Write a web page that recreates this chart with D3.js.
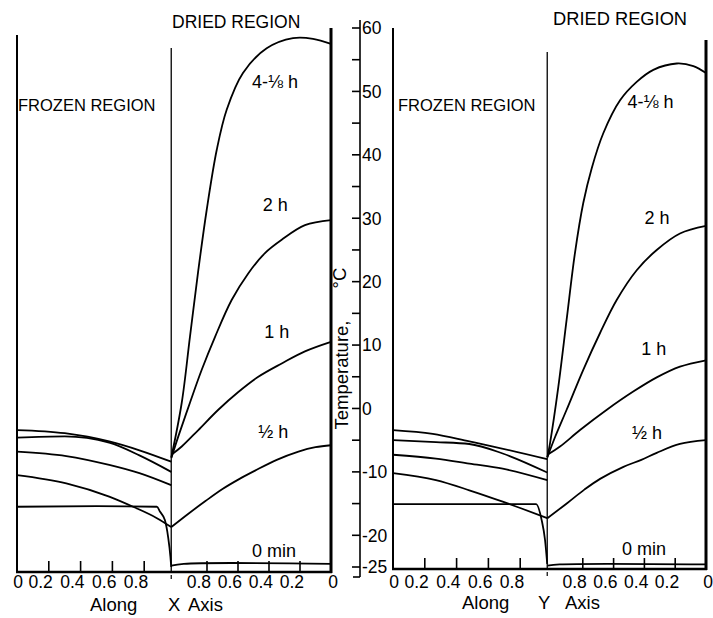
<!DOCTYPE html>
<html><head><meta charset="utf-8">
<script src="https://cdn.jsdelivr.net/npm/d3@7"></script>
<style>
body{margin:0;background:#fff}
text{font-family:"Liberation Sans",Arial,sans-serif;fill:#000}
</style>
</head><body>
<svg id="c" width="713" height="618"></svg>
<script>
// ---------------- data ----------------
const xTickValues = [0.2, 0.4, 0.6, 0.8];
const tempMajorTicks = [60, 50, 40, 30, 20, 10, 0, -10, -20, -25];
const tempMinorTicks = [55, 45, 35, 25, 15, 5, -5, -15];
const frontFrozen = 0.97;   // sublimation front, frozen-side coordinate
const frontDried = 1.03;    // sublimation front, dried-side coordinate
const seriesNames = ["4-\u215B h", "2 h", "1 h", "\u00BD h", "0 min"];

// Along X axis — frozen region [x, T]
const xFrozen4h = [[0,-3.4],[0.3,-3.9],[0.58,-5.2],[0.77,-6.6],[0.97,-8.4]];
const xFrozen2h = [[0,-4.6],[0.3,-4.4],[0.58,-5.4],[0.77,-7.4],[0.97,-10.0]];
const xFrozen1h = [[0,-6.8],[0.31,-7.5],[0.58,-8.9],[0.77,-10.2],[0.97,-12.1]];
const xFrozenHalf = [[0,-10.5],[0.31,-11.8],[0.58,-13.9],[0.73,-15.5],[0.88,-17.3],[0.97,-18.7]];
const xFrozen0 = [[0,-15.5],[0.5,-15.4],[0.88,-15.5],[0.9,-16.3],[0.93,-17.6],[0.95,-20.2],[0.965,-23.4],[0.97,-25]];
// Along X axis — dried region [distance, T]
const xDried4h = [[1.03,-7.7],[0.963,0.9],[0.91,11.3],[0.856,21.8],[0.802,31.3],[0.737,40.8],[0.673,47.1],[0.568,52.9],[0.415,56.8],[0.245,58.4],[0.116,58.3],[0,57.5]];
const xDried2h = [[1.03,-7.8],[0.985,-4.4],[0.91,0.9],[0.834,6.1],[0.748,11.3],[0.641,17.1],[0.534,21.3],[0.426,24.5],[0.318,26.6],[0.168,28.9],[0,29.7]];
const xDried1h = [[1.03,-7.3],[0.963,-6.0],[0.856,-3.4],[0.727,-0.2],[0.598,2.6],[0.469,5.0],[0.318,7.1],[0.168,9.0],[0,10.5]];
const xDriedHalf = [[1.03,-18.7],[0.92,-16.6],[0.81,-14.6],[0.7,-12.7],[0.59,-11.1],[0.49,-9.8],[0.35,-8.1],[0.21,-6.8],[0.1,-6.1],[0,-5.8]];
const xDried0 = [[1.03,-24.8],[0.95,-24.5],[0,-24.5]];

// Along Y axis — frozen region
const yFrozen4h = [[0,-3.4],[0.25,-4.0],[0.48,-5.2],[0.63,-6.0],[0.97,-8.0]];
const yFrozen2h = [[0,-5.0],[0.27,-5.3],[0.48,-5.6],[0.69,-7.1],[0.97,-10.1]];
const yFrozen1h = [[0,-7.3],[0.27,-7.9],[0.48,-8.7],[0.69,-9.5],[0.97,-11.3]];
const yFrozenHalf = [[0,-10.2],[0.27,-11.3],[0.48,-12.9],[0.69,-14.7],[0.8,-15.7],[0.97,-17.3]];
const yFrozen0 = [[0,-15.1],[0.5,-15.1],[0.9,-15.1],[0.935,-17.6],[0.956,-20.7],[0.97,-24.5]];
// Along Y axis — dried region
const yDried4h = [[1.03,-7.7],[1.013,-5.5],[0.959,3.4],[0.905,14.0],[0.851,24.5],[0.797,32.4],[0.742,37.9],[0.667,43.4],[0.558,48.6],[0.45,51.5],[0.342,53.4],[0.19,54.4],[0.082,54.0],[0,52.9]];
const yDried2h = [[1.03,-7.7],[0.98,-4.5],[0.905,-0.2],[0.797,6.1],[0.688,11.9],[0.58,17.1],[0.45,21.8],[0.32,25.0],[0.169,27.6],[0,28.8]];
const yDried1h = [[1.03,-7.3],[0.948,-6.0],[0.818,-3.4],[0.644,-0.2],[0.47,2.7],[0.32,4.9],[0.169,6.6],[0,7.6]];
const yDriedHalf = [[1.03,-17.3],[0.9,-14.9],[0.79,-12.8],[0.688,-11.1],[0.536,-9.2],[0.42,-8.1],[0.32,-7.0],[0.169,-5.6],[0,-5.0]];
const yDried0 = [[1.03,-24.8],[0.95,-24.6],[0,-24.6]];

// ---------------- layout ----------------
const svg = d3.select("#c");
svg.append("rect").attr("width",713).attr("height",618).attr("fill","#fff");
const y = d3.scaleLinear().domain([-25, 60]).range([567, 28]);

const panels = [
  { frozenRange:[17,176], driedRange:[176,331], bottom:572,
    leftTop:35, rightTop:28, frontTop:48,
    frozen:[xFrozen4h,xFrozen2h,xFrozen1h,xFrozenHalf,xFrozen0],
    dried:[xDried4h,xDried2h,xDried1h,xDriedHalf,xDried0],
    labelAt:[[0.51,50.5],[0.44,31.1],[0.43,11.1],[0.47,-4.7],[0.51,-23.4]],
    frozenTitle:{x:18,y:111,size:16.5}, driedTitle:{x:172,y:28,size:17.5},
    caption:[["Along",90],["X",168],["Axis",188]], captionY:611 },
  { frozenRange:[393,552], driedRange:[552,706], bottom:569,
    leftTop:28, rightTop:40, frontTop:52,
    frozen:[yFrozen4h,yFrozen2h,yFrozen1h,yFrozenHalf,yFrozen0],
    dried:[yDried4h,yDried2h,yDried1h,yDriedHalf,yDried0],
    labelAt:[[0.51,47.4],[0.40,29.1],[0.42,8.4],[0.48,-4.8],[0.545,-23.1]],
    frozenTitle:{x:398,y:111,size:16.5}, driedTitle:{x:553,y:25,size:18.3},
    caption:[["Along",462],["Y",538],["Axis",565]], captionY:609 }
];

panels.forEach(p => {
  const xF = d3.scaleLinear().domain([0,1]).range(p.frozenRange);
  const xD = d3.scaleLinear().domain([1,0]).range(p.driedRange);
  const g = svg.append("g");
  const L = xF(0), R = xD(0), I = xF(frontFrozen);

  // frame
  g.append("line").attr("x1",L).attr("x2",L).attr("y1",p.leftTop).attr("y2",p.bottom)
    .attr("stroke","#000").attr("stroke-width",2);
  g.append("line").attr("x1",R).attr("x2",R).attr("y1",p.rightTop).attr("y2",p.bottom+1)
    .attr("stroke","#000").attr("stroke-width",3);
  g.append("line").attr("x1",I).attr("x2",I).attr("y1",p.frontTop).attr("y2",p.bottom)
    .attr("stroke","#000").attr("stroke-width",1.3);
  g.append("line").attr("x1",L-1).attr("x2",R+1).attr("y1",p.bottom).attr("y2",p.bottom)
    .attr("stroke","#000").attr("stroke-width",2.5);
  // interface mark under axis
  g.append("line").attr("x1",I).attr("x2",I).attr("y1",p.bottom+3).attr("y2",p.bottom+7)
    .attr("stroke","#000").attr("stroke-width",1.2);

  // x ticks
  xTickValues.forEach(t => {
    [xF(t), xD(t)].forEach(px => {
      g.append("line").attr("x1",px).attr("x2",px).attr("y1",p.bottom-11).attr("y2",p.bottom)
        .attr("stroke","#000").attr("stroke-width",1.6);
    });
  });
  const lab = g.append("g").attr("font-size",17.5);
  xTickValues.forEach(t => {
    lab.append("text").attr("x",xF(t)+4).attr("y",588).attr("text-anchor","end").text(t.toFixed(1));
    lab.append("text").attr("x",xD(t)+4).attr("y",588).attr("text-anchor","end").text(t.toFixed(1));
  });
  lab.append("text").attr("x",L+1).attr("y",588).attr("text-anchor","middle").text("0");
  lab.append("text").attr("x",R+2).attr("y",588).attr("text-anchor","middle").text("0");

  // captions
  p.caption.forEach(c => {
    g.append("text").attr("x",c[1]).attr("y",p.captionY).attr("font-size",18.5).text(c[0]);
  });

  // region titles
  g.append("text").attr("x",p.frozenTitle.x).attr("y",p.frozenTitle.y)
    .attr("font-size",p.frozenTitle.size).text("FROZEN REGION");
  g.append("text").attr("x",p.driedTitle.x).attr("y",p.driedTitle.y)
    .attr("font-size",p.driedTitle.size).text("DRIED REGION");

  // curves
  const lineF = d3.line().x(d=>xF(d[0])).y(d=>y(d[1])).curve(d3.curveMonotoneX);
  const lineD = d3.line().x(d=>xD(d[0])).y(d=>y(d[1])).curve(d3.curveCatmullRom.alpha(0.5));
  p.frozen.forEach(s => g.append("path").attr("d",lineF(s)).attr("fill","none")
    .attr("stroke","#000").attr("stroke-width",1.8));
  p.dried.forEach(s => g.append("path").attr("d",lineD(s)).attr("fill","none")
    .attr("stroke","#000").attr("stroke-width",1.8));

  // curve labels
  seriesNames.forEach((n,i) => {
    g.append("text").attr("x",xD(p.labelAt[i][0])).attr("y",y(p.labelAt[i][1]))
      .attr("font-size",18).text(n);
  });
});

// temperature axis
const ax = svg.append("g");
const AX = 360;
ax.append("line").attr("x1",AX).attr("x2",AX).attr("y1",20).attr("y2",577)
  .attr("stroke","#000").attr("stroke-width",1.6);
ax.append("line").attr("x1",353).attr("x2",AX).attr("y1",577).attr("y2",577)
  .attr("stroke","#000").attr("stroke-width",1.6);
tempMajorTicks.concat(tempMinorTicks).forEach(t => {
  ax.append("line").attr("x1",AX-8).attr("x2",AX).attr("y1",y(t)).attr("y2",y(t))
    .attr("stroke","#000").attr("stroke-width",1.6);
});
tempMajorTicks.forEach(t => {
  ax.append("text").attr("x",AX+2).attr("y",y(t)).attr("dy","0.36em")
    .attr("font-size",17.5).text(String(t));
});
ax.append("text").attr("transform","translate(348,375) rotate(-90)")
  .attr("text-anchor","middle").attr("font-size",18.5).text("Temperature,");
ax.append("text").attr("transform","translate(346,278) rotate(-90)")
  .attr("text-anchor","middle").attr("font-size",18.5).text("\u00B0C");
</script>
</body></html>
